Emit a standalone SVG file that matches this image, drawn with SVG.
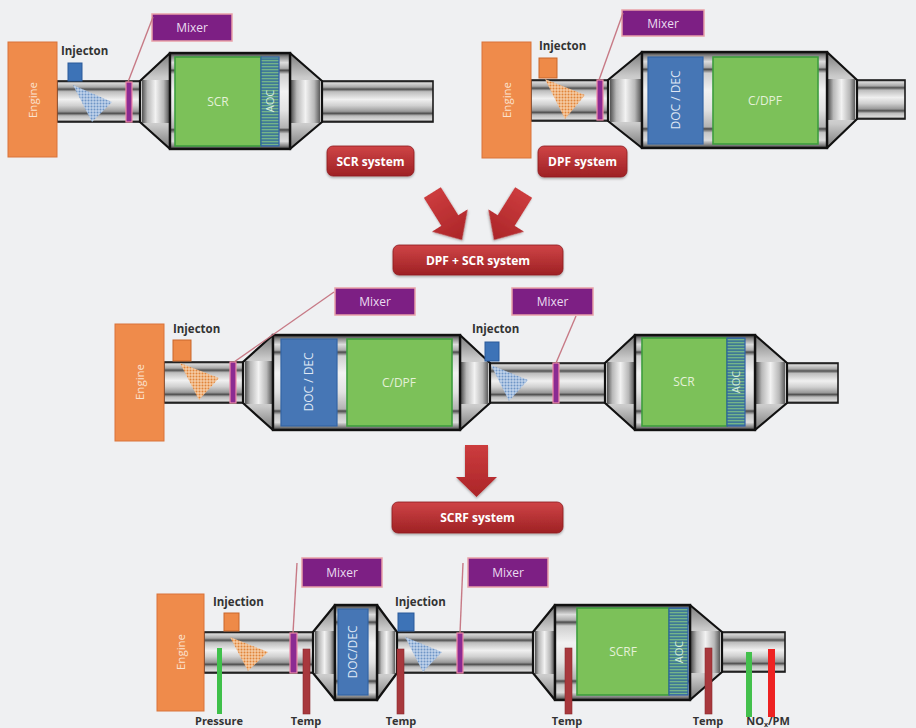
<svg xmlns="http://www.w3.org/2000/svg" width="916" height="728" viewBox="0 0 916 728">
  <defs>
    <!-- metallic shading for exhaust pipes -->
    <linearGradient id="pipeGrad" x1="0" y1="0" x2="0" y2="1">
      <stop offset="0" stop-color="#222"/>
      <stop offset="0.05" stop-color="#d8d8d8"/>
      <stop offset="0.15" stop-color="#a8a8a8"/>
      <stop offset="0.2" stop-color="#505050"/>
      <stop offset="0.26" stop-color="#bdbdbd"/>
      <stop offset="0.45" stop-color="#f0f0f0"/>
      <stop offset="0.6" stop-color="#d0d0d0"/>
      <stop offset="0.74" stop-color="#9a9a9a"/>
      <stop offset="0.79" stop-color="#505050"/>
      <stop offset="0.85" stop-color="#bcbcbc"/>
      <stop offset="0.94" stop-color="#d8d8d8"/>
      <stop offset="1" stop-color="#222"/>
    </linearGradient>
    <!-- converter housing -->
    <linearGradient id="bodyGrad" x1="0" y1="0" x2="0" y2="1">
      <stop offset="0" stop-color="#333"/>
      <stop offset="0.04" stop-color="#8a8a8a"/>
      <stop offset="0.1" stop-color="#dcdcdc"/>
      <stop offset="0.16" stop-color="#acacac"/>
      <stop offset="0.18" stop-color="#4a4a4a"/>
      <stop offset="0.22" stop-color="#cfcfcf"/>
      <stop offset="0.4" stop-color="#f2f2f2"/>
      <stop offset="0.6" stop-color="#e2e2e2"/>
      <stop offset="0.78" stop-color="#b2b2b2"/>
      <stop offset="0.8" stop-color="#4a4a4a"/>
      <stop offset="0.84" stop-color="#c6c6c6"/>
      <stop offset="0.92" stop-color="#dcdcdc"/>
      <stop offset="0.97" stop-color="#808080"/>
      <stop offset="1" stop-color="#333"/>
    </linearGradient>
    <linearGradient id="flankGrad" x1="0" y1="0" x2="0" y2="1">
      <stop offset="0" stop-color="#7a7a7a"/>
      <stop offset="0.25" stop-color="#cacaca"/>
      <stop offset="0.5" stop-color="#ebebeb"/>
      <stop offset="0.75" stop-color="#cacaca"/>
      <stop offset="1" stop-color="#7a7a7a"/>
    </linearGradient>
    <linearGradient id="cylGrad" x1="0" y1="0" x2="1" y2="0">
      <stop offset="0" stop-color="#505050"/>
      <stop offset="0.2" stop-color="#b8b8b8"/>
      <stop offset="0.5" stop-color="#f2f2f2"/>
      <stop offset="0.8" stop-color="#b8b8b8"/>
      <stop offset="1" stop-color="#5a5a5a"/>
    </linearGradient>
    <linearGradient id="btnGrad" x1="0" y1="0" x2="0" y2="1">
      <stop offset="0" stop-color="#cf4446"/>
      <stop offset="1" stop-color="#9e2124"/>
    </linearGradient>
    <linearGradient id="arrGrad" x1="0" y1="0" x2="0" y2="1">
      <stop offset="0" stop-color="#cc3c3e"/>
      <stop offset="1" stop-color="#ab2528"/>
    </linearGradient>
    <!-- fine dotted spray texture -->
    <pattern id="dotB" width="3" height="3" patternUnits="userSpaceOnUse">
      <rect width="3" height="3" fill="#bfd2ea"/>
      <circle cx="1.5" cy="1.5" r="1" fill="#6f95c6"/>
    </pattern>
    <pattern id="dotO" width="3" height="3" patternUnits="userSpaceOnUse">
      <rect width="3" height="3" fill="#f5cba3"/>
      <circle cx="1.5" cy="1.5" r="1" fill="#e0843a"/>
    </pattern>
    <pattern id="aocPat" width="4" height="3" patternUnits="userSpaceOnUse">
      <rect width="4" height="3" fill="#3f7a95"/>
      <rect width="4" height="1.3" fill="#74b48a"/>
    </pattern>
    <filter id="shadow" x="-10%" y="-20%" width="120%" height="150%">
      <feDropShadow dx="0" dy="1.5" stdDeviation="1.2" flood-color="#000" flood-opacity="0.3"/>
    </filter>
    <!-- block arrow with its tip at the origin, pointing down -->
    <path id="diagArrow" d="M-10,-56 L10,-56 L10,-23 L21,-23 L0,0 L-21,-23 L-10,-23 Z"/>
    <style>
      .pipe{fill:url(#pipeGrad);stroke:#1a1a1a;stroke-width:1.6}
      .body{fill:url(#bodyGrad);stroke:#111;stroke-width:2.4}
      .cone{fill:url(#flankGrad);stroke:#111;stroke-width:2.2;stroke-linejoin:round}
      .cyl{fill:url(#cylGrad)}
      .engine{fill:#ef8b4b;stroke:#d9733a;stroke-width:1}
      .eng-t{font-family:"Open Sans","Liberation Sans",sans-serif;font-size:11.5px;fill:#fbe2cf;text-anchor:middle}
      .inj-o{fill:#ee8a48;stroke:#c9662a;stroke-width:1}
      .inj-b{fill:#3d73b7;stroke:#2a5a9a;stroke-width:1}
      .spray-b{fill:url(#dotB)}
      .spray-o{fill:url(#dotO)}
      .mbar{fill:#8b2b92;stroke:#f08aa8;stroke-width:1.2}
      .mlab{fill:#7d1f84;stroke:#e9a0a8;stroke-width:1.5}
      .mtxt{font-family:"Open Sans","Liberation Sans",sans-serif;font-size:12px;fill:#eadcf0;text-anchor:middle}
      .lead{stroke:#c77a86;stroke-width:1.4;fill:none}
      .scr{fill:#7cc159;stroke:#3e9d3e;stroke-width:1.6}
      .doc{fill:#4676b5;stroke:#3364a5;stroke-width:1.2}
      .aoc{fill:url(#aocPat);stroke:#2f62a8;stroke-width:1.2}
      .blk-t{font-family:"Open Sans","Liberation Sans",sans-serif;font-size:12px;fill:#e4f1d8;text-anchor:middle}
      .doc-t{font-family:"Open Sans","Liberation Sans",sans-serif;font-size:12px;fill:#dfe7f4;text-anchor:middle}
      .aoc-t{font-family:"Open Sans","Liberation Sans",sans-serif;font-size:11px;fill:#d4ecdc;text-anchor:middle}
      .lbl{font-family:"Open Sans","Liberation Sans",sans-serif;font-size:11.5px;font-weight:bold;fill:#333}
      .slbl{font-family:"Open Sans","Liberation Sans",sans-serif;font-size:11px;font-weight:bold;fill:#333;text-anchor:middle}
      .btn{fill:url(#btnGrad);stroke:#8e1c1f;stroke-width:0.8;filter:url(#shadow)}
      .btn-t{font-family:"Open Sans","Liberation Sans",sans-serif;font-size:12px;font-weight:bold;fill:#fff;text-anchor:middle}
      .temp{fill:#a8383d;stroke:#8a282c;stroke-width:0.6}
      .press{fill:#3fc04a}
      .nox{fill:#43c04c}
      .pm{fill:#ee2222}
      .arrow{fill:url(#arrGrad);filter:url(#shadow)}
    </style>
  </defs>

  <rect width="916" height="728" fill="#eff0f2"/>

  <!-- ===== SCR system (top left) ===== -->
  <g id="scr-system">
    <rect class="pipe" x="57" y="81" width="84" height="41"/>
    <rect class="pipe" x="321" y="81" width="112" height="41"/>
    <polygon class="cone" points="140,81 170,53 170,149 140,122"/>
    <rect class="cyl" x="142" y="80" width="27" height="43"/>
    <polygon class="cone" points="290,53 322,81 322,122 290,149"/>
    <rect class="cyl" x="291" y="80" width="29" height="43"/>
    <rect class="body" x="170" y="53" width="120" height="96"/>
    <rect class="scr" x="175" y="57" width="86" height="89"/>
    <text class="blk-t" x="218" y="106">SCR</text>
    <rect class="aoc" x="261" y="57" width="18" height="89"/>
    <text class="aoc-t" transform="translate(270,101) rotate(-90)" dy="4">AOC</text>
    <polygon class="spray-b" points="73,85 112,102 92,122"/>
    <rect class="mbar" x="126" y="82" width="6" height="40"/>
    <rect class="engine" x="8" y="42" width="49" height="115"/>
    <text class="eng-t" transform="translate(33,100) rotate(-90)" dy="4">Engine</text>
    <rect class="inj-b" x="68" y="63" width="14" height="18"/>
    <text class="lbl" x="61" y="55">Injecton</text>
  </g>
  <g id="scr-mixer-label">
    <rect class="mlab" x="152" y="14" width="80" height="27"/>
    <text class="mtxt" x="192" y="32">Mixer</text>
  </g>
  <g id="scr-system-button">
    <rect class="btn" x="327" y="146" width="87" height="30" rx="6"/>
    <text class="btn-t" x="370.5" y="165.5">SCR system</text>
  </g>

  <!-- ===== DPF system (top right) ===== -->
  <g id="dpf-system">
    <rect class="pipe" x="531" y="80" width="78" height="41"/>
    <rect class="pipe" x="856" y="80" width="49" height="39"/>
    <polygon class="cone" points="608,80 642,52 642,148 608,121"/>
    <rect class="cyl" x="610" y="79" width="31" height="43"/>
    <polygon class="cone" points="827,52 857,80 857,119 827,148"/>
    <rect class="cyl" x="828" y="79" width="27" height="41"/>
    <rect class="body" x="642" y="52" width="185" height="96"/>
    <rect class="doc" x="648" y="57" width="55" height="87"/>
    <text class="doc-t" transform="translate(676,100) rotate(-90)" dy="4">DOC / DEC</text>
    <rect class="scr" x="713" y="57" width="105" height="87"/>
    <text class="blk-t" x="765" y="105">C/DPF</text>
    <polygon class="spray-o" points="545,79 585,95 565,119"/>
    <rect class="mbar" x="597" y="80" width="6" height="40"/>
    <rect class="engine" x="482" y="42" width="49" height="116"/>
    <text class="eng-t" transform="translate(507,100) rotate(-90)" dy="4">Engine</text>
    <rect class="inj-o" x="539" y="58" width="18" height="20"/>
    <text class="lbl" x="539" y="50">Injecton</text>
  </g>
  <g id="dpf-mixer-label">
    <rect class="mlab" x="622" y="10" width="82" height="26"/>
    <text class="mtxt" x="663" y="27.5">Mixer</text>
  </g>
  <g id="dpf-system-button">
    <rect class="btn" x="538" y="146" width="89" height="31" rx="6"/>
    <text class="btn-t" x="582.5" y="166">DPF system</text>
  </g>

  <!-- ===== DPF + SCR system (middle) ===== -->
  <g id="dpf-scr-system">
    <rect class="pipe" x="164" y="362" width="80" height="41"/>
    <rect class="pipe" x="489" y="363" width="117" height="40"/>
    <rect class="pipe" x="786" y="363" width="52" height="40"/>
    <!-- DPF can -->
    <polygon class="cone" points="243,362 273,335 273,430 243,403"/>
    <rect class="cyl" x="245" y="361" width="27" height="43"/>
    <polygon class="cone" points="460,335 490,363 490,403 460,430"/>
    <rect class="cyl" x="461" y="362" width="27" height="42"/>
    <rect class="body" x="273" y="335" width="187" height="95"/>
    <rect class="doc" x="281" y="339" width="56" height="87"/>
    <text class="doc-t" transform="translate(309,382) rotate(-90)" dy="4">DOC / DEC</text>
    <rect class="scr" x="347" y="339" width="105" height="87"/>
    <text class="blk-t" x="399" y="387">C/DPF</text>
    <!-- SCR can -->
    <polygon class="cone" points="605,363 635,335 635,430 605,403"/>
    <rect class="cyl" x="607" y="362" width="27" height="42"/>
    <polygon class="cone" points="755,335 787,363 787,403 755,430"/>
    <rect class="cyl" x="756" y="362" width="29" height="42"/>
    <rect class="body" x="635" y="335" width="120" height="95"/>
    <rect class="scr" x="642" y="338" width="85" height="88"/>
    <text class="blk-t" x="684" y="386">SCR</text>
    <rect class="aoc" x="727" y="338" width="18" height="88"/>
    <text class="aoc-t" transform="translate(736,382) rotate(-90)" dy="4">AOC</text>
    <polygon class="spray-o" points="180,363 219,378 199,400"/>
    <polygon class="spray-b" points="491,365 528,380 509,401"/>
    <rect class="mbar" x="230" y="362" width="6" height="41"/>
    <rect class="mbar" x="553" y="363" width="6" height="40"/>
    <rect class="engine" x="115" y="324" width="49" height="117"/>
    <text class="eng-t" transform="translate(140,382) rotate(-90)" dy="4">Engine</text>
    <rect class="inj-o" x="173" y="340" width="18" height="21"/>
    <rect class="inj-b" x="485" y="342" width="14" height="19"/>
    <text class="lbl" x="173" y="333">Injecton</text>
    <text class="lbl" x="472" y="333">Injecton</text>
  </g>
  <g id="dpf-scr-mixer-label-1">
    <rect class="mlab" x="335" y="288" width="80" height="27"/>
    <text class="mtxt" x="375" y="306">Mixer</text>
  </g>
  <g id="dpf-scr-mixer-label-2">
    <rect class="mlab" x="512" y="288" width="81" height="27"/>
    <text class="mtxt" x="552.5" y="306">Mixer</text>
  </g>
  <g id="dpf-scr-system-button">
    <rect class="btn" x="393" y="245" width="170" height="30" rx="6"/>
    <text class="btn-t" x="478" y="264.5">DPF + SCR system</text>
  </g>

  <!-- ===== SCRF system (bottom) ===== -->
  <g id="scrf-system">
    <rect class="pipe" x="204" y="632" width="110" height="41"/>
    <rect class="pipe" x="396" y="632" width="138" height="41"/>
    <rect class="pipe" x="721" y="632" width="64" height="40"/>
    <!-- DOC can -->
    <polygon class="cone" points="313,632 335,605 335,700 313,673"/>
    <rect class="cyl" x="315" y="631" width="19" height="43"/>
    <polygon class="cone" points="377,605 397,632 397,673 377,700"/>
    <rect class="cyl" x="378" y="631" width="17" height="43"/>
    <rect class="body" x="335" y="605" width="42" height="95"/>
    <rect class="doc" x="338" y="609" width="30" height="86"/>
    <text class="doc-t" transform="translate(353,652) rotate(-90)" dy="4">DOC/DEC</text>
    <!-- SCRF can -->
    <polygon class="cone" points="533,632 555,605 555,700 533,673"/>
    <rect class="cyl" x="535" y="631" width="19" height="43"/>
    <polygon class="cone" points="690,605 722,632 722,672 690,700"/>
    <rect class="cyl" x="691" y="631" width="29" height="42"/>
    <rect class="body" x="555" y="605" width="135" height="95"/>
    <rect class="scr" x="577" y="608" width="92" height="87"/>
    <text class="blk-t" x="623" y="656">SCRF</text>
    <rect class="aoc" x="669" y="608" width="19" height="87"/>
    <text class="aoc-t" transform="translate(678.5,652) rotate(-90)" dy="4">AOC</text>
    <polygon class="spray-o" points="230,637 268,652 248,671"/>
    <polygon class="spray-b" points="405,637 442,652 423,672"/>
    <rect class="mbar" x="290" y="633" width="7" height="40"/>
    <rect class="mbar" x="457" y="633" width="6" height="40"/>
    <rect class="engine" x="157" y="594" width="47" height="117"/>
    <text class="eng-t" transform="translate(181,652) rotate(-90)" dy="4">Engine</text>
    <rect class="inj-o" x="224" y="613" width="15" height="18"/>
    <rect class="inj-b" x="398" y="613" width="16" height="18"/>
    <text class="lbl" x="213" y="606">Injection</text>
    <text class="lbl" x="395" y="606">Injection</text>
    <!-- sensors -->
    <rect class="press" x="217" y="648" width="5" height="66"/>
    <rect class="temp" x="303" y="649" width="7" height="65"/>
    <rect class="temp" x="397" y="649" width="7" height="65"/>
    <rect class="temp" x="565" y="648" width="7" height="66"/>
    <rect class="temp" x="705" y="648" width="7" height="66"/>
    <rect class="nox" x="746" y="652" width="6" height="65"/>
    <rect class="pm" x="768" y="649" width="7" height="68"/>
    <text class="slbl" x="219" y="725">Pressure</text>
    <text class="slbl" x="306" y="725">Temp</text>
    <text class="slbl" x="401" y="725">Temp</text>
    <text class="slbl" x="567" y="725">Temp</text>
    <text class="slbl" x="708" y="725">Temp</text>
    <text class="slbl" x="768" y="725">NO<tspan font-size="7" dy="2">x</tspan><tspan dy="-2">/PM</tspan></text>
  </g>
  <g id="scrf-mixer-label-1">
    <rect class="mlab" x="302" y="558" width="80" height="29"/>
    <text class="mtxt" x="342" y="577">Mixer</text>
  </g>
  <g id="scrf-mixer-label-2">
    <rect class="mlab" x="468" y="558" width="80" height="29"/>
    <text class="mtxt" x="508" y="577">Mixer</text>
  </g>
  <g id="scrf-system-button">
    <rect class="btn" x="392" y="502" width="171" height="31" rx="6"/>
    <text class="btn-t" x="477.5" y="522">SCRF system</text>
  </g>

  <!-- ===== connectors: mixer leaders and flow arrows ===== -->
  <g id="connectors">
    <line class="lead" x1="128" y1="82" x2="153" y2="17"/>
    <line class="lead" x1="599" y1="80" x2="623" y2="13"/>
    <line class="lead" x1="234" y1="362" x2="334" y2="292"/>
    <line class="lead" x1="556" y1="363" x2="576" y2="316"/>
    <line class="lead" x1="293" y1="633" x2="297" y2="563"/>
    <line class="lead" x1="460" y1="633" x2="463" y2="563"/>
    <use href="#diagArrow" class="arrow" transform="translate(462,240) rotate(-32)"/>
    <use href="#diagArrow" class="arrow" transform="translate(494,240) rotate(32)"/>
    <path class="arrow" d="M465,445 H488 V477 H497 L476.5,497 L456,477 H465 Z"/>
  </g>
</svg>
